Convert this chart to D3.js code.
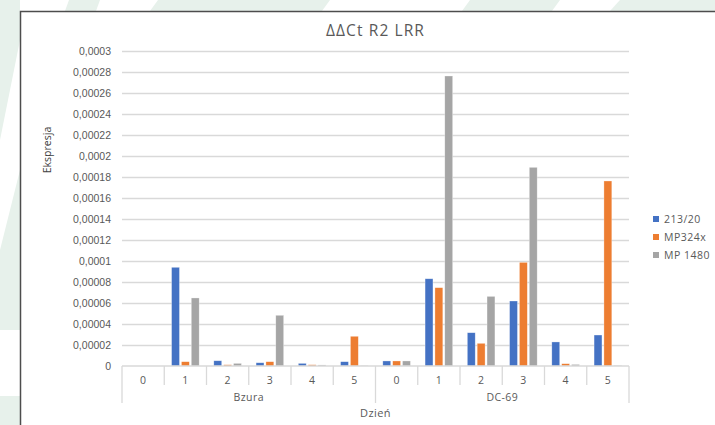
<!DOCTYPE html>
<html>
<head>
<meta charset="utf-8">
<script src="https://cdn.jsdelivr.net/npm/d3@7"></script>
<style>
  html, body { margin: 0; padding: 0; background: #ffffff; }
  svg { display: block; font-family: "Open Sans", "Noto Sans", sans-serif; }
</style>
</head>
<body>
<svg id="chart" width="715" height="425"></svg>
<script>
// Expression per group and day
const groups = ["Bzura", "DC-69"];
const days = ["0", "1", "2", "3", "4", "5"];
const seriesNames = ["213/20", "MP324x", "MP 1480"];
const seriesColors = ["#4472C4", "#ED7D31", "#A5A5A5"];

// values in group order: Bzura 0..5, then DC-69 0..5
const vals213 = [0, 0.000094, 0.000005, 0.0000031, 0.0000025, 0.0000041,
                 0.0000048, 0.0000831, 0.0000317, 0.0000619, 0.0000229, 0.0000295];
const valsMP324x = [0, 0.0000041, 0.0000012, 0.0000041, 0.0000012, 0.0000283,
                    0.0000048, 0.0000746, 0.0000216, 0.0000987, 0.0000022, 0.0001762];
const valsMP1480 = [0, 0.0000648, 0.0000025, 0.0000483, 0.000001, 0.0000004,
                    0.0000048, 0.0002762, 0.0000663, 0.0001892, 0.0000015, 0.0000005];

const yTicks = [0, 0.00002, 0.00004, 0.00006, 0.00008, 0.0001, 0.00012, 0.00014,
                0.00016, 0.00018, 0.0002, 0.00022, 0.00024, 0.00026, 0.00028, 0.0003];

const svg = d3.select("#chart");
const textColor = "#595959";

// decorative pale background shapes around the chart frame
const bg = svg.append("g").attr("fill", "#e7f1eb");
[
  [[69, 0], [100, 0], [96, 11], [65, 11]],
  [[158, 0], [330, 0], [322, 11], [150, 11]],
  [[470, 0], [560, 0], [552, 11], [462, 11]],
  [[620, 0], [715, 0], [715, 11], [610, 11]],
  [[0, 0], [20, 0], [20, 40], [0, 140]],
  [[0, 250], [20, 170], [20, 330], [0, 330]],
  [[0, 396], [20, 396], [20, 425], [0, 425]]
].forEach(p => bg.append("polygon").attr("points", p.map(q => q.join(",")).join(" ")));

// chart frame
svg.append("rect")
  .attr("x", 20.5).attr("y", 11.5)
  .attr("width", 800).attr("height", 500)
  .attr("fill", "#ffffff")
  .attr("stroke", "#4d4d4d").attr("stroke-width", 1.5);

const plot = { left: 122, right: 629, top: 51, bottom: 366 };

const y = d3.scaleLinear().domain([0, 0.0003]).range([plot.bottom, plot.top]);

const cats = [];
groups.forEach(g => days.forEach(d => cats.push(g + "|" + d)));

const x0 = d3.scaleBand().domain(cats).range([plot.left, plot.right]).paddingInner(0).paddingOuter(0);
const groupWidth = 27.6;
const x1 = d3.scaleBand().domain(seriesNames).range([0, groupWidth]).paddingInner(0.2).paddingOuter(0);

// gridlines + y labels
const fmt = d => d === 0 ? "0" : String(+d.toFixed(6)).replace(".", ",");
const yAxis = svg.append("g")
  .attr("transform", `translate(${plot.left},0)`)
  .call(d3.axisLeft(y).tickValues(yTicks).tickFormat(fmt)
        .tickSize(-(plot.right - plot.left)).tickPadding(11));
yAxis.select(".domain").remove();
yAxis.selectAll(".tick line")
  .attr("stroke", "#d9d9d9").attr("stroke-width", 1.3)
  .filter(d => d === 0).remove();
yAxis.selectAll(".tick text")
  .attr("fill", textColor).attr("font-size", 10.5);

// bars
const series = [vals213, valsMP324x, valsMP1480];
const barsG = svg.append("g");
series.forEach((vals, si) => {
  barsG.selectAll(null)
    .data(vals.map((v, i) => ({ cat: cats[i], v })))
    .join("rect")
    .attr("x", d => x0(d.cat) + (x0.bandwidth() - groupWidth) / 2 + x1(seriesNames[si]))
    .attr("y", d => y(d.v))
    .attr("width", x1.bandwidth())
    .attr("height", d => y(0) - y(d.v))
    .attr("fill", seriesColors[si])
    .attr("stroke", "#ffffff").attr("stroke-opacity", 0.5).attr("stroke-width", 0.6);
});

// category axis: baseline, day ticks, group separators
const axisG = svg.append("g").attr("stroke", "#d9d9d9").attr("stroke-width", 1.3);
axisG.append("line")
  .attr("x1", plot.left).attr("x2", plot.right)
  .attr("y1", plot.bottom).attr("y2", plot.bottom);
cats.forEach((c, i) => {
  const xs = x0(c);
  const isGroupEdge = i % days.length === 0;
  axisG.append("line")
    .attr("x1", xs).attr("x2", xs)
    .attr("y1", plot.bottom).attr("y2", isGroupEdge ? 403 : 385);
});
axisG.append("line")
  .attr("x1", plot.right).attr("x2", plot.right)
  .attr("y1", plot.bottom).attr("y2", 403);

// day labels
svg.append("g").selectAll("text")
  .data(cats)
  .join("text")
  .attr("x", d => x0(d) + x0.bandwidth() / 2)
  .attr("y", 384)
  .attr("text-anchor", "middle")
  .attr("fill", textColor).attr("font-size", 10.5)
  .text(d => d.split("|")[1]);

// group labels
svg.append("g").selectAll("text")
  .data(groups)
  .join("text")
  .attr("x", g => {
    const first = x0(g + "|" + days[0]);
    const last = x0(g + "|" + days[days.length - 1]) + x0.bandwidth();
    return (first + last) / 2;
  })
  .attr("y", 401)
  .attr("text-anchor", "middle")
  .attr("fill", textColor).attr("font-size", 10.5)
  .attr("letter-spacing", 0.4)
  .text(g => g);

// axis titles
svg.append("text")
  .attr("x", (plot.left + plot.right) / 2).attr("y", 417)
  .attr("text-anchor", "middle")
  .attr("fill", textColor).attr("font-size", 11)
  .attr("letter-spacing", 0.4)
  .text("Dzień");

svg.append("text")
  .attr("transform", "translate(51,150) rotate(-90)")
  .attr("text-anchor", "middle")
  .attr("fill", "#404040").attr("font-size", 10.5)
  .attr("font-family", "'Liberation Sans Narrow', 'Open Sans', sans-serif")
  .text("Ekspresja");

// chart title
svg.append("text")
  .attr("x", (plot.left + plot.right) / 2).attr("y", 36)
  .attr("text-anchor", "middle")
  .attr("fill", textColor).attr("font-size", 15.5)
  .attr("letter-spacing", 1.1)
  .text("ΔΔCt R2 LRR");

// legend
const legend = svg.append("g");
seriesNames.forEach((name, i) => {
  const ly = 219 + i * 18;
  legend.append("rect")
    .attr("x", 653).attr("y", ly - 3)
    .attr("width", 6).attr("height", 6)
    .attr("fill", seriesColors[i]);
  legend.append("text")
    .attr("x", 664).attr("y", ly + 3.5)
    .attr("fill", textColor).attr("font-size", 10.5)
    .attr("letter-spacing", 0.5)
    .text(name);
});
</script>
</body>
</html>
